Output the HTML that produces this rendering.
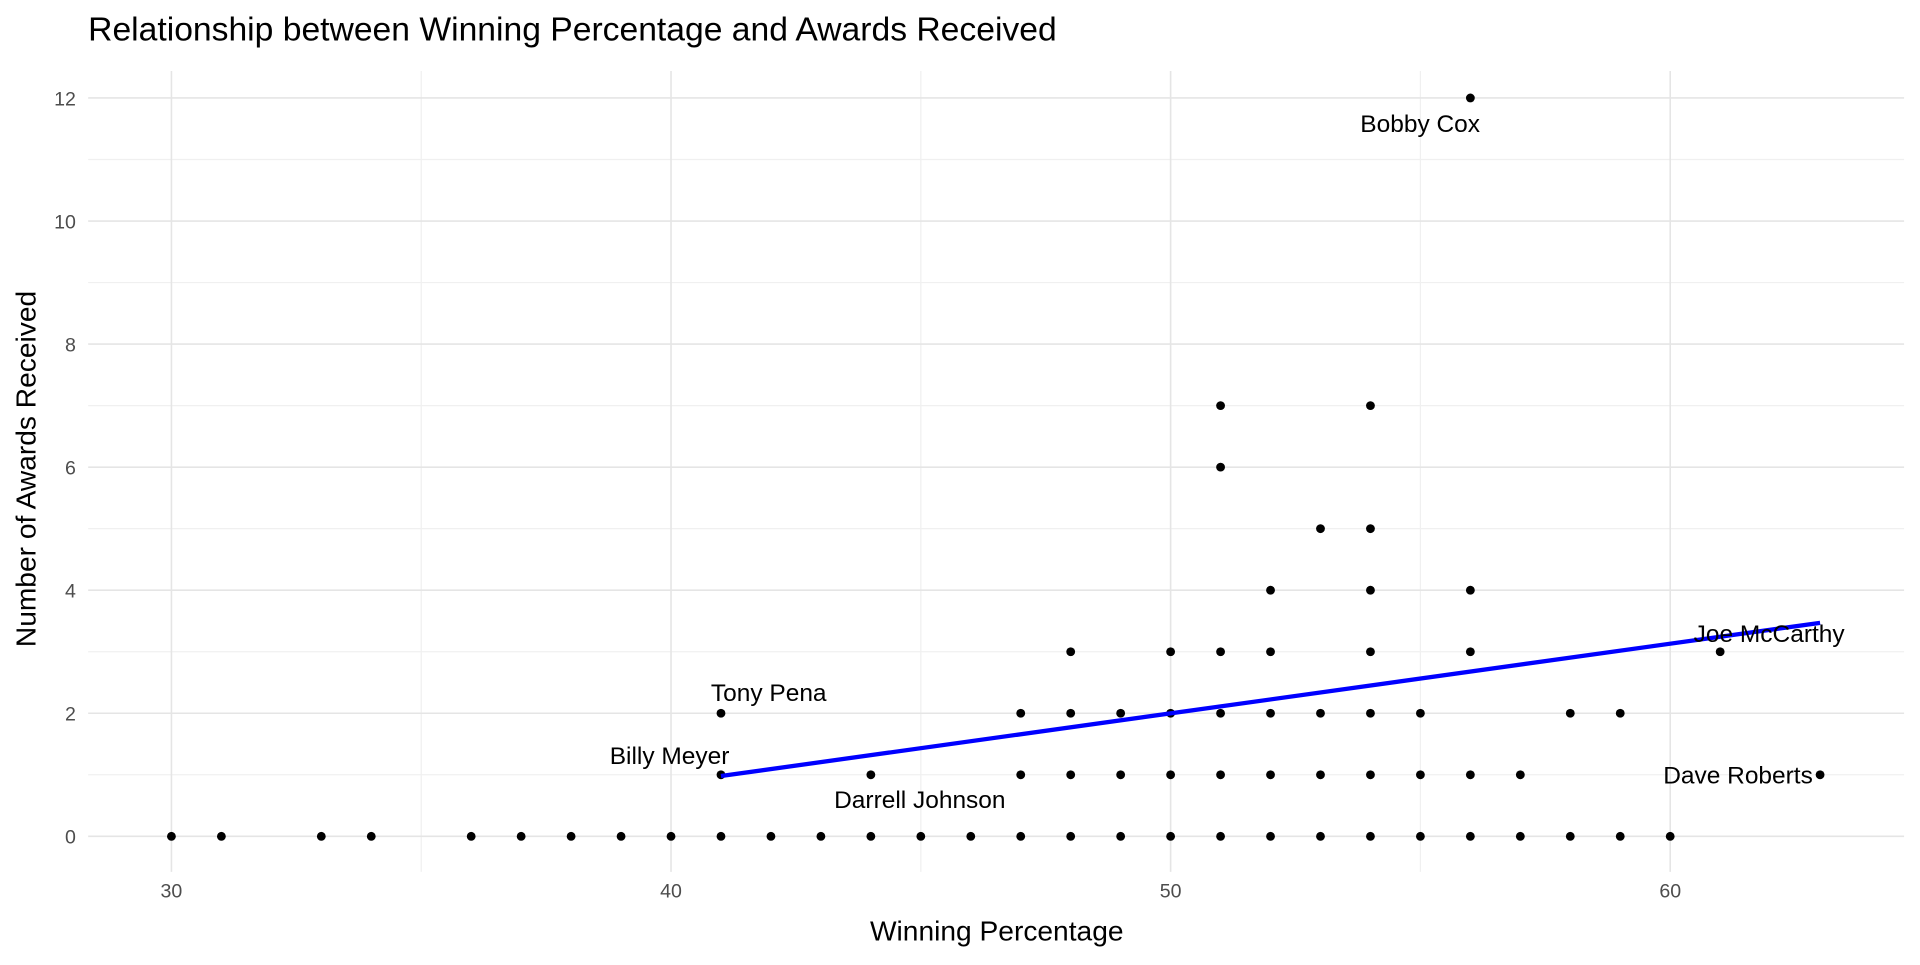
<!DOCTYPE html>
<html><head><meta charset="utf-8"><style>
body{margin:0;background:#fff;font-family:"Liberation Sans",sans-serif;}
</style></head><body>
<svg id="chart" width="1920" height="960" viewBox="0 0 1568 784" xmlns="http://www.w3.org/2000/svg" font-family="Liberation Sans, sans-serif">
<rect width="1568" height="784" fill="#fff"/>
<text x="72" y="33" font-size="27.5" fill="#000">Relationship between Winning Percentage and Awards Received</text>
<g id="grid"></g><g id="marks"></g><g id="labels"></g>
<text x="814" y="768" font-size="23" text-anchor="middle">Winning Percentage</text>
<text transform="translate(29,383) rotate(-90)" font-size="23" text-anchor="middle">Number of Awards Received</text>
</svg>
<script>
const xs = [30,31,33,34,36,37,38,39,40,41,42,43,44,45,46,47,48,49,50,51,52,53,54,55,56,57,58,59,60,
 41,44,47,48,49,50,51,52,53,54,55,56,57,63,
 41,47,48,49,50,51,52,53,54,55,58,59,
 48,50,51,52,54,56,61,
 52,54,56, 53,54, 51, 51,54, 56];
const ys = [0,0,0,0,0,0,0,0,0,0,0,0,0,0,0,0,0,0,0,0,0,0,0,0,0,0,0,0,0,
 1,1,1,1,1,1,1,1,1,1,1,1,1,1,
 2,2,2,2,2,2,2,2,2,2,2,2,
 3,3,3,3,3,3,3,
 4,4,4, 5,5, 6, 7,7, 12];
const fitX = [41,63];
const fitY = [0.98,3.47];
const labelNames = ["Bobby Cox","Tony Pena","Billy Meyer","Darrell Johnson","Joe McCarthy","Dave Roberts"];
const labelX = [56,41,41,44,61,63];
const labelY = [12,2,1,1,3,1];
const xTicks = [30,40,50,60];
const yTicks = [0,2,4,6,8,10,12];
const X = v => 140 + (v-30)*40.8;
const Y = v => 683 - v*50.25;
const NS="http://www.w3.org/2000/svg";
const grid=document.getElementById('grid'), marks=document.getElementById('marks'), labs=document.getElementById('labels');
function mk(tag,attrs,parent){const e=document.createElementNS(NS,tag);for(const k in attrs)e.setAttribute(k,attrs[k]);parent.appendChild(e);return e;}
const L=72,R=1555,T=58,B=712;
[35,45,55].forEach(v=>{const e=mk('line',{x1:X(v),x2:X(v),y1:T,y2:B,stroke:'#f0f0f0','stroke-width':1},grid);

});
[1,3,5,7,9,11].forEach(v=>{const e=mk('line',{x1:L,x2:R,y1:Y(v),y2:Y(v),stroke:'#f0f0f0','stroke-width':1},grid);

});
xTicks.forEach(v=>{const e=mk('line',{x1:X(v),x2:X(v),y1:T,y2:B,stroke:'#e5e5e5','stroke-width':1.3},grid);


const t=mk('text',{x:X(v),y:733,'font-size':16,fill:'#4d4d4d','text-anchor':'middle'},grid);t.textContent=v;

});
yTicks.forEach(v=>{const e=mk('line',{x1:L,x2:R,y1:Y(v),y2:Y(v),stroke:'#e5e5e5','stroke-width':1.3},grid);


const t=mk('text',{x:62,y:Y(v)+6,'font-size':16,fill:'#4d4d4d','text-anchor':'end'},grid);t.textContent=v;

});
xs.forEach((v,i)=>{const c=mk('circle',{cx:X(v),cy:Y(ys[i]),r:3.6,fill:'#000'},marks);

});
const fl=mk('line',{x1:X(fitX[0]),y1:Y(fitY[0]),x2:X(fitX[1]),y2:Y(fitY[1]),stroke:'#0000ff','stroke-width':3.5},marks);


const offs=[[-41,22],[39,-16],[-42,-15],[40,21],[40,-14],[-67,1]];
labelNames.forEach((n,i)=>{const t=mk('text',{x:X(labelX[i])+offs[i][0],y:Y(labelY[i])+offs[i][1]+6,'font-size':20,'text-anchor':'middle',fill:'#000'},labs);t.textContent=n;

});
</script>
</body></html>
